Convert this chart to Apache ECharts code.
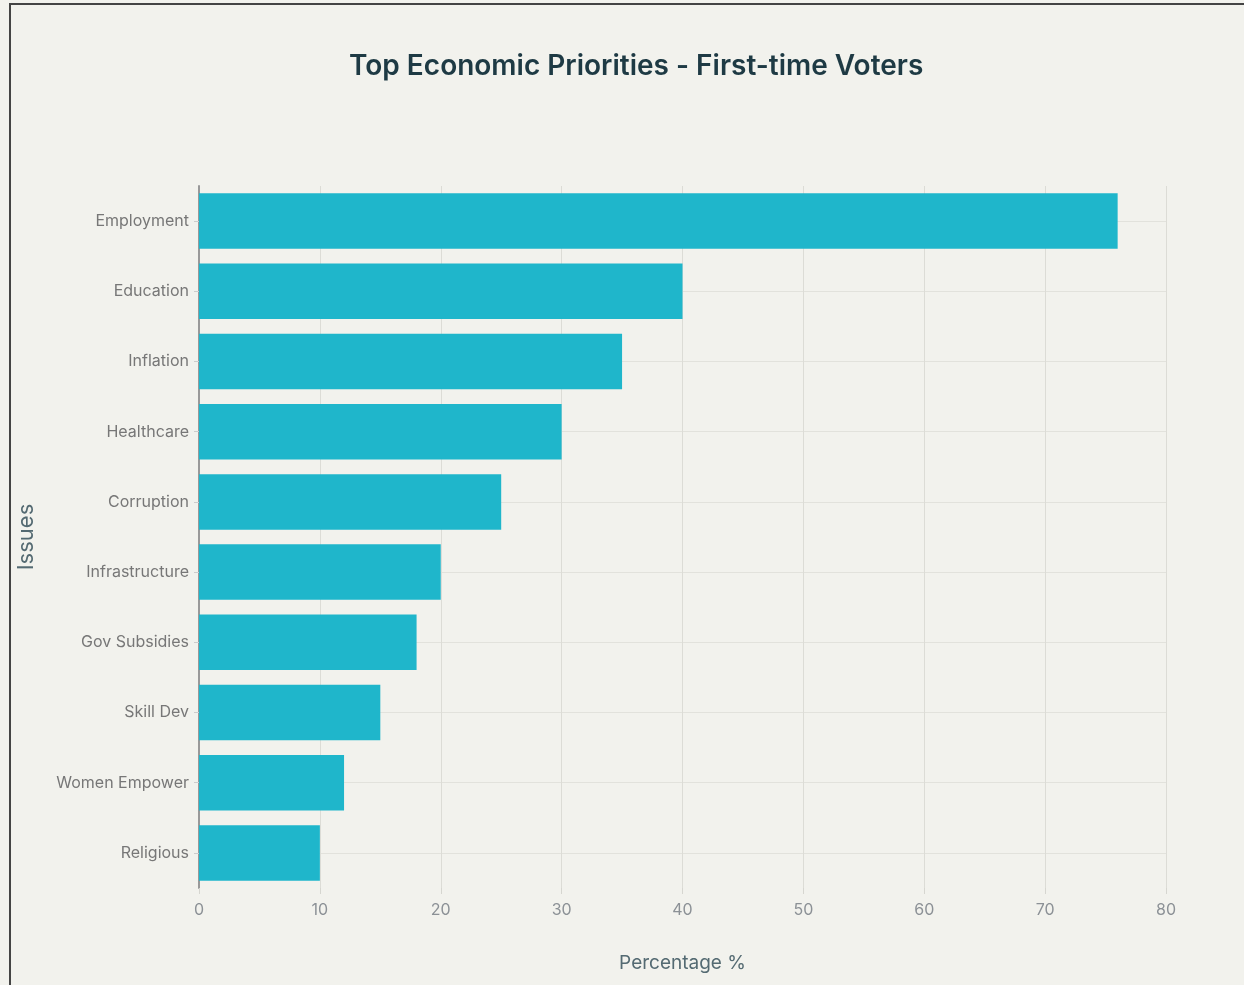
<!DOCTYPE html>
<html>
<head>
<meta charset="utf-8">
<script src="https://cdn.jsdelivr.net/npm/echarts@6/dist/echarts.min.js"></script>
<style>
html,body{margin:0;padding:0;background:#f2f2ed;width:1244px;height:985px;overflow:hidden;}
#frame{position:absolute;left:9px;top:3px;width:1250px;height:1000px;border-left:2px solid #444;border-top:2px solid #444;box-sizing:border-box;}
#chart{position:absolute;left:0;top:0;width:1244px;height:985px;}
</style>
</head>
<body>
<div id="frame"></div>
<div id="chart"></div>
<script>
const chartTitle = 'Top Economic Priorities - First-time Voters';
const categories = ['Employment','Education','Inflation','Healthcare','Corruption','Infrastructure','Gov Subsidies','Skill Dev','Women Empower','Religious'];
const percentages = [76, 40, 35, 30, 25, 20, 18, 15, 12, 10];
const xTicks = [0, 10, 20, 30, 40, 50, 60, 70, 80];

const chart = echarts.init(document.getElementById('chart'), null, {renderer:'canvas'});
chart.setOption({
  backgroundColor: 'transparent',
  animation: false,
  title: {
    text: chartTitle,
    left: 344, top: 48,
    textStyle: {fontFamily: 'Inter', fontSize: 28, fontWeight: 600, color: '#1e3a44'}
  },
  grid: {left: 199, right: 78, top: 186, bottom: 97, containLabel: false},
  xAxis: {
    type: 'value', min: xTicks[0], max: xTicks[xTicks.length-1], interval: 10,
    name: 'Percentage %', nameLocation: 'middle', nameGap: 66,
    nameTextStyle: {fontFamily: 'Inter', fontSize: 19, color: '#546a72'},
    axisLine: {show: false},
    axisTick: {show: true, length: 6, lineStyle: {color: '#d6d6d0'}},
    axisLabel: {fontFamily: 'Inter', fontSize: 16, color: '#8c9196', margin: 14},
    splitLine: {show: true, lineStyle: {color: '#dcdcd6', width: 1}}
  },
  yAxis: {
    type: 'category', data: categories, inverse: true,
    name: 'Issues', nameLocation: 'middle', nameGap: 162, nameRotate: 90,
    nameTextStyle: {fontFamily: 'Inter', fontSize: 22, color: '#546a72'},
    axisLine: {show: true, lineStyle: {color: '#999', width: 2}},
    axisTick: {show: true, alignWithLabel: true, length: 5, lineStyle: {color: '#ccc'}},
    axisLabel: {fontFamily: 'Inter', fontSize: 16, color: '#777', margin: 10},
    splitLine: {show: true, alignWithLabel: true, lineStyle: {color: '#e2e2dc', width: 1}}
  },
  series: [{
    type: 'bar', data: percentages,
    barCategoryGap: '21%',
    itemStyle: {color: '#1fb6cb'},
    z: 3
  }]
});
</script>
</body>
</html>
